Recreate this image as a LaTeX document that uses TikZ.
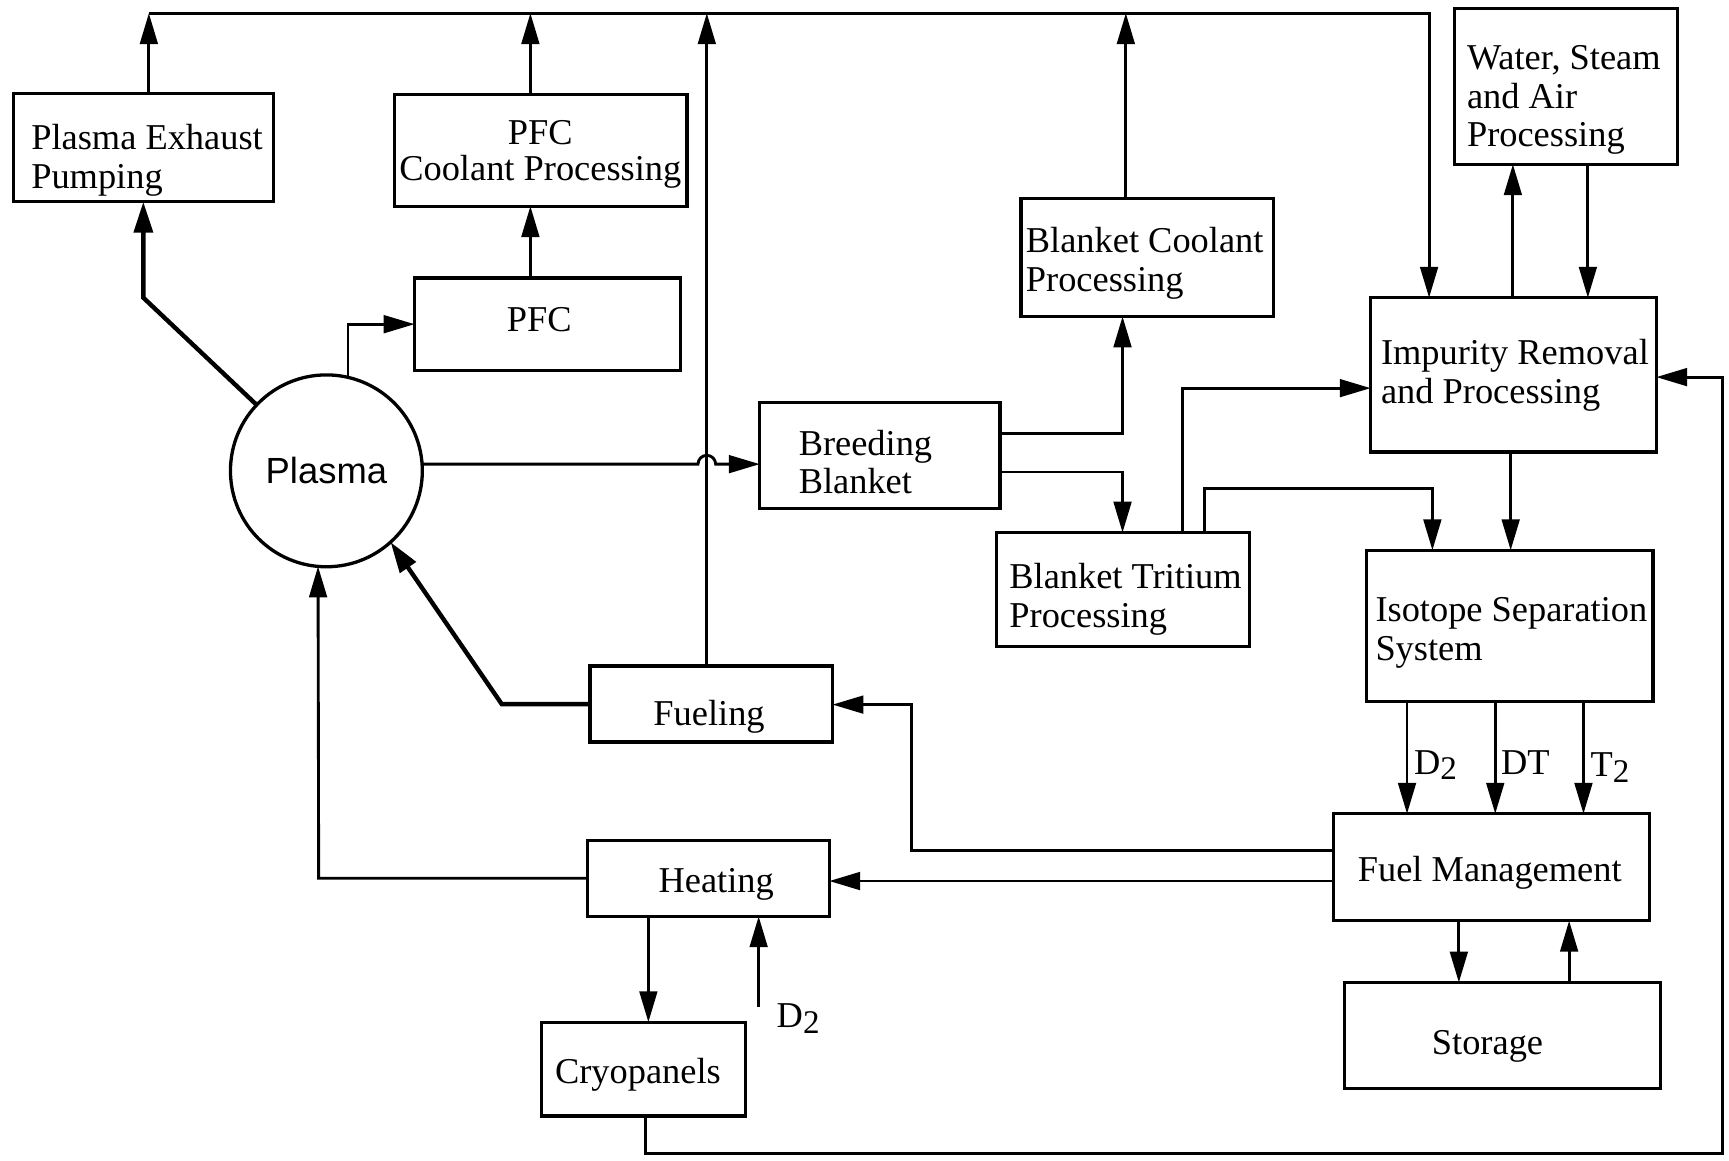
\documentclass[tikz,border=0pt]{standalone}
\usepackage{fontspec}
\setmainfont{Liberation Serif}
\newfontfamily\sansplasma{Liberation Sans}
\usetikzlibrary{arrows.meta,calc}
\newcommand\subtwo[1]{#1\raisebox{-0.35ex}{\fontsize{15}{15}\selectfont 2}}
\newcommand\lines[1]{\begin{tabular}[t]{@{}l@{}}#1\end{tabular}}
\newcommand\clines[1]{\begin{tabular}[t]{@{}c@{}}#1\end{tabular}}
\begin{document}
\begin{tikzpicture}[x=0.5pt,y=-0.5pt,
  box/.style={draw, line width=1.5pt, inner sep=0pt, outer sep=0pt},
  txt/.style={inner sep=0pt, font=\fontsize{16.5}{17.5}\selectfont},
  arr/.style={line width=1.3pt, -{Triangle[length=14pt,width=8pt]}},
  tarr/.style={line width=2pt, -{Triangle[length=14pt,width=8.5pt]}},
  lab/.style={anchor=base west, inner sep=0pt, font=\fontsize{16.5}{18}\selectfont}]
\useasboundingbox (0,0) rectangle (1568,1052);
\fill[white] (0,0) rectangle (1568,1052);

% boxes
\node[box, minimum width=118pt, minimum height=49pt] (pep) at (130,134) {};
\node[box, minimum width=132.5pt, minimum height=50.5pt] (pfcc) at (490.5,136.5) {};
\node[box, minimum width=120.5pt, minimum height=42pt] (pfc) at (496.5,294) {};
\node[circle, draw, line width=1.5pt, minimum size=87pt, inner sep=0pt, outer sep=0pt,
  font=\sansplasma\fontsize{16.5}{18}\selectfont] (plasma) at (296,427) {Plasma};
\node[box, minimum width=109pt, minimum height=48pt] (bb) at (798,413) {};
\node[box, minimum width=114.5pt, minimum height=53.5pt] (bcp) at (1040.5,233.5) {};
\node[box, minimum width=114.5pt, minimum height=51.5pt] (btp) at (1018.5,534.5) {};
\node[box, minimum width=129.5pt, minimum height=70pt] (ir) at (1372.5,340) {};
\node[box, minimum width=101pt, minimum height=70.5pt] (wsa) at (1420,78.5) {};
\node[box, minimum width=130pt, minimum height=68.5pt] (iss) at (1369,567.5) {};
\node[box, minimum width=143.5pt, minimum height=48.5pt] (fm) at (1352.5,786.5) {};
\node[box, minimum width=143.5pt, minimum height=48pt] (st) at (1362.5,939) {};
\node[box, minimum width=110pt, minimum height=34.5pt] (fu) at (645,638.5) {};
\node[box, minimum width=109.5pt, minimum height=34.5pt] (he) at (642.5,796.5) {};
\node[box, minimum width=92.5pt, minimum height=42.5pt] (cr) at (583.5,969.5) {};

% box texts
\node[txt, anchor=base west] (pep-t) at (28,136) {\lines{Plasma Exhaust\\Pumping}};
\node[txt, anchor=base, font=\fontsize{16.5}{16.5}\selectfont] (pfcc-t) at (490,131) {\clines{PFC\\Coolant Processing}};
\node[txt, anchor=base] (pfc-t) at (489,301) {PFC};
\node[txt, anchor=base west] (bb-t) at (724,413) {\lines{Breeding\\Blanket}};
\node[txt, anchor=base west] (bcp-t) at (930,229) {\lines{Blanket Coolant\\Processing}};
\node[txt, anchor=base west] (btp-t) at (915,534) {\lines{Blanket Tritium\\Processing}};
\node[txt, anchor=base west] (ir-t) at (1252,331) {\lines{Impurity Removal\\and Processing}};
\node[txt, anchor=base west] (wsa-t) at (1330,63) {\lines{Water, Steam\\and Air\\Processing}};
\node[txt, anchor=base west] (iss-t) at (1247,564) {\lines{Isotope Separation\\System}};
\node[txt, anchor=base] (fm-t) at (1351,799) {Fuel Management};
\node[txt, anchor=base] (st-t) at (1349,956) {Storage};
\node[txt, anchor=base] (fu-t) at (643,658) {Fueling};
\node[txt, anchor=base] (he-t) at (649.5,809) {Heating};
\node[txt, anchor=base] (cr-t) at (578.5,983) {Cryopanels};

% free ends
\coordinate (tl) at (135,12);
\coordinate (tr) at (1296,12);
\coordinate (d2in) at (688,913);

% top collector line
\draw[arr] (tl) -- (tr) -- (tr |- ir.north);
\draw[arr] (135,0 |- pep.north) -- (tl);
\draw[arr] (481,0 |- pfcc.north) -- (481,0 |- tl);
\draw[arr] (481,0 |- pfc.north) -- (481,0 |- pfcc.south);
\draw[arr] (641,0 |- fu.north) -- (641,0 |- tl);
\draw[arr] (1021,0 |- bcp.north) -- (1021,0 |- tl);

% plasma connections
\draw[tarr] (plasma) -- (130,270) -- (pep);
\draw[arr] (plasma.77) |- (pfc.west);
\draw[arr] (plasma.4) -- (633,0 |- plasma.4) arc[start angle=180, end angle=0, radius=4pt] -- (bb.west |- plasma.4);
\draw[arr] (he.west) -- (289,0 |- he.west) -- (plasma.265.4);
\draw[tarr] (fu.west) -- (455,0 |- fu.west) -- (plasma.312);

% blanket
\draw[arr] (bb.east |- 0,393) -| (1018,0 |- bcp.south);
\draw[arr] (bb.east |- 0,428) -| (1018,0 |- btp.north);
\draw[arr] (1072,0 |- btp.north) |- (ir.west |- 0,352);
\draw[arr] (1092,0 |- btp.north) -- (1092,443) -- (1299,443) -- (1299,0 |- iss.north);

% impurity / water / isotope
\draw[arr] (1372,0 |- ir.north) -- (1372,0 |- wsa.south);
\draw[arr] (1440,0 |- wsa.south) -- (1440,0 |- ir.north);
\draw[arr] (1370,0 |- ir.south) -- (1370,0 |- iss.north);

% isotope -> fuel management
\draw[arr] (1276,0 |- iss.south) -- (1276,0 |- fm.north);
\draw[arr] (1356,0 |- iss.south) -- (1356,0 |- fm.north);
\draw[arr] (1436,0 |- iss.south) -- (1436,0 |- fm.north);
\node[lab] (ld2) at (1282,702) {\subtwo{D}};
\node[lab] (ldt) at (1361,702) {DT};
\node[lab] (lt2) at (1442,704) {\subtwo{T}};

% fuel management / storage
\draw[arr] (1323,0 |- fm.south) -- (1323,0 |- st.north);
\draw[arr] (1423,0 |- st.north) -- (1423,0 |- fm.south);
\draw[arr] (fm.west |- 0,771) -- (827,771) -- (827,639) -- (fu.east |- 0,639);
\draw[arr] (fm.west |- 0,799) -- (he.east |- 0,799);

% heating / cryopanels
\draw[arr] (588,0 |- he.south) -- (588,0 |- cr.north);
\draw[arr] (d2in) -- (d2in |- he.south);
\node[lab] (ld2b) at (704,932) {\subtwo{D}};
\draw[arr] (585,0 |- cr.south) -- (585,1046) -- (1562,1046) -- (1562,342) -- (ir.east |- 0,342);
\end{tikzpicture}
\end{document}
